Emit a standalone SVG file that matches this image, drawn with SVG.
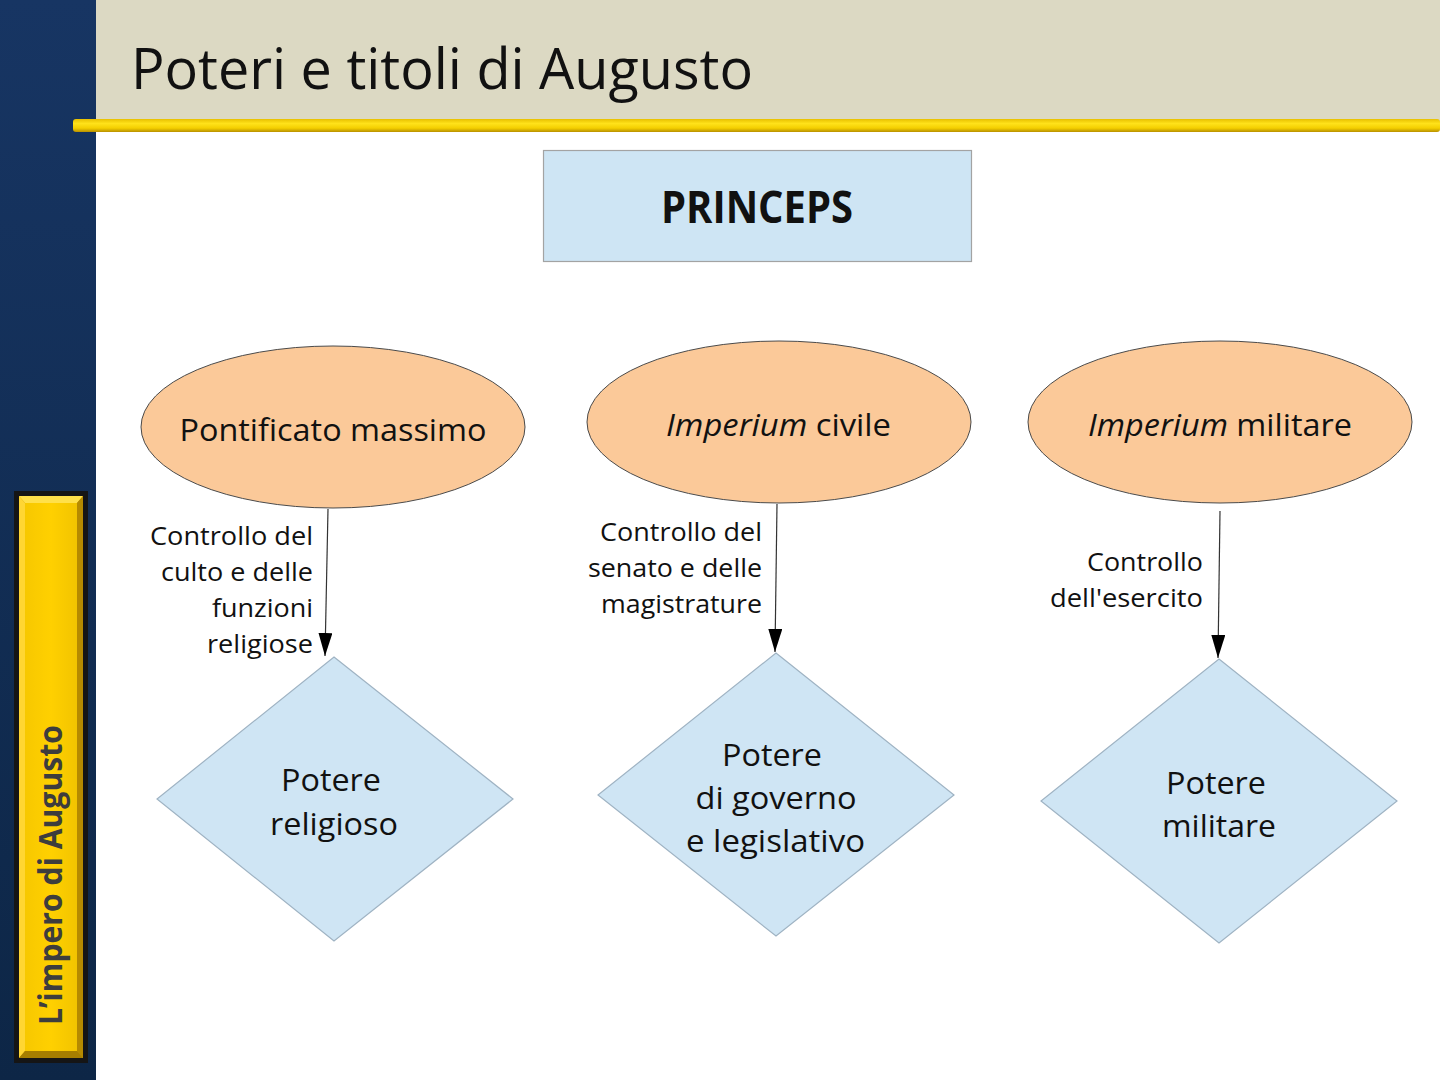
<svg xmlns="http://www.w3.org/2000/svg" width="1440" height="1080" viewBox="0 0 1440 1080">
<defs>
<linearGradient id="side" x1="0" y1="0" x2="0" y2="1">
<stop offset="0" stop-color="#173563"/>
<stop offset="1" stop-color="#0d2646"/>
</linearGradient>
<linearGradient id="bar" x1="0" y1="0" x2="0" y2="1">
<stop offset="0" stop-color="#e8c000"/>
<stop offset="0.35" stop-color="#ffe21a"/>
<stop offset="0.7" stop-color="#f4cf00"/>
<stop offset="1" stop-color="#b89000"/>
</linearGradient>
<linearGradient id="tab" x1="0" y1="0" x2="1" y2="0">
<stop offset="0" stop-color="#f7c800"/>
<stop offset="0.5" stop-color="#ffd000"/>
<stop offset="1" stop-color="#f2c400"/>
</linearGradient>
<marker id="arr" markerUnits="userSpaceOnUse" markerWidth="23" markerHeight="14" refX="23" refY="7" viewBox="0 0 23 14" orient="auto">
<path d="M0,0 L23,7 L0,14 Z" fill="#000"/>
</marker>
<style>
text{font-family:"Open Sans","Noto Sans","Liberation Sans",sans-serif;fill:#111}
.ell{fill:#fbc999;stroke:#4a4a4a;stroke-width:1}
.dia{fill:#cfe5f4;stroke:#9fb3c3;stroke-width:1.2}
.lbl{font-size:25px;text-anchor:end}
.etx{font-size:31px;text-anchor:middle}
.dtx{font-size:31px;text-anchor:middle}
.con{stroke:#333;stroke-width:1.2;fill:none;marker-end:url(#arr)}
</style>
</defs>

<rect x="0" y="0" width="1440" height="1080" fill="#ffffff"/>
<rect x="0" y="0" width="96" height="1080" fill="url(#side)"/>
<rect x="96" y="0" width="1344" height="122" fill="#dcd9c3"/>
<rect x="73" y="119" width="1367" height="13" rx="3" fill="url(#bar)"/>

<g id="sidebar-tab">
<rect x="14" y="491" width="74" height="572" fill="#151515"/>
<rect x="19" y="496" width="64" height="562" fill="#c99a00"/>
<polygon points="19,496 83,496 77,503 25,503" fill="#ffe04a"/>
<polygon points="19,496 25,503 25,1051 19,1058" fill="#ffd633"/>
<polygon points="83,496 83,1058 77,1051 77,503" fill="#b58a00"/>
<polygon points="19,1058 83,1058 77,1051 25,1051" fill="#a67e00"/>
<rect x="25" y="503" width="52" height="548" fill="url(#tab)"/>
<text transform="translate(62,1025) rotate(-90)" font-size="33" font-weight="bold" textLength="300" lengthAdjust="spacingAndGlyphs" style="fill:#3d3d3d">L’impero di Augusto</text>
</g>

<g id="title">
<text x="131" y="89" font-size="56" textLength="622" lengthAdjust="spacingAndGlyphs">Poteri e titoli di Augusto</text>
</g>

<g id="princeps">
<rect x="543.5" y="150.5" width="428" height="111" fill="#cee5f4" stroke="#a3a3a3" stroke-width="1.2"/>
<text x="757" y="223" font-size="45" font-weight="bold" text-anchor="middle" textLength="192" lengthAdjust="spacingAndGlyphs">PRINCEPS</text>
</g>

<g id="pontificato">
<ellipse class="ell" cx="333" cy="427" rx="192" ry="81"/>
<text class="etx" x="333" y="441" textLength="307" lengthAdjust="spacingAndGlyphs">Pontificato massimo</text>
</g>

<g id="imperium-civile">
<ellipse class="ell" cx="779" cy="422" rx="192" ry="81"/>
<text class="etx" x="778.5" y="436" textLength="225" lengthAdjust="spacingAndGlyphs"><tspan font-style="italic">Imperium</tspan> civile</text>
</g>

<g id="imperium-militare">
<ellipse class="ell" cx="1220" cy="422" rx="192" ry="81"/>
<text class="etx" x="1220" y="436" textLength="264" lengthAdjust="spacingAndGlyphs"><tspan font-style="italic">Imperium</tspan> militare</text>
</g>

<g id="potere-religioso">
<polygon class="dia" points="334,657 513,799 334,941 157,799"/>
<text class="dtx" x="331" y="791" textLength="100" lengthAdjust="spacingAndGlyphs">Potere</text>
<text class="dtx" x="334" y="835" textLength="128" lengthAdjust="spacingAndGlyphs">religioso</text>
</g>

<g id="potere-governo">
<polygon class="dia" points="776,653 954,795 776,936 598,795"/>
<text class="dtx" x="772" y="766" textLength="100" lengthAdjust="spacingAndGlyphs">Potere</text>
<text class="dtx" x="776" y="809" textLength="161" lengthAdjust="spacingAndGlyphs">di governo</text>
<text class="dtx" x="775.5" y="852" textLength="179" lengthAdjust="spacingAndGlyphs">e legislativo</text>
</g>

<g id="potere-militare">
<polygon class="dia" points="1219,659 1397,801 1219,943 1041,801"/>
<text class="dtx" x="1216" y="794" textLength="100" lengthAdjust="spacingAndGlyphs">Potere</text>
<text class="dtx" x="1219" y="837" textLength="114" lengthAdjust="spacingAndGlyphs">militare</text>
</g>

<g id="connectors">
<line class="con" x1="328" y1="509" x2="325" y2="656"/>
<line class="con" x1="777" y1="504" x2="775" y2="652"/>
<line class="con" x1="1220" y1="511" x2="1218" y2="658"/>
</g>

<g id="labels">
<text class="lbl" x="313" y="545" textLength="163" lengthAdjust="spacingAndGlyphs">Controllo del</text>
<text class="lbl" x="313" y="581" textLength="152" lengthAdjust="spacingAndGlyphs">culto e delle</text>
<text class="lbl" x="313" y="617" textLength="101" lengthAdjust="spacingAndGlyphs">funzioni</text>
<text class="lbl" x="313" y="653" textLength="106" lengthAdjust="spacingAndGlyphs">religiose</text>
<text class="lbl" x="762" y="541" textLength="162" lengthAdjust="spacingAndGlyphs">Controllo del</text>
<text class="lbl" x="762" y="577" textLength="174" lengthAdjust="spacingAndGlyphs">senato e delle</text>
<text class="lbl" x="762" y="613" textLength="161" lengthAdjust="spacingAndGlyphs">magistrature</text>
<text class="lbl" x="1203" y="571" textLength="116" lengthAdjust="spacingAndGlyphs">Controllo</text>
<text class="lbl" x="1203" y="607" textLength="153" lengthAdjust="spacingAndGlyphs">dell'esercito</text>
</g>
</svg>
